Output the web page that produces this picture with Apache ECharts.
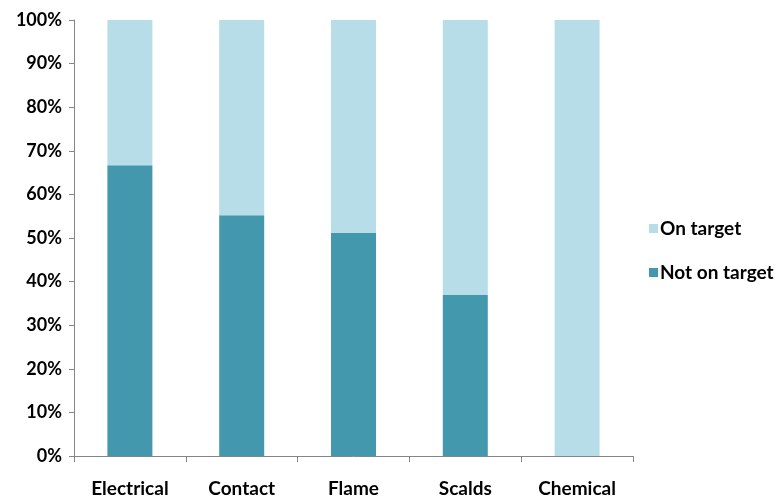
<!DOCTYPE html>
<html>
<head>
<meta charset="utf-8">
<script src="https://cdn.jsdelivr.net/npm/echarts@6/dist/echarts.min.js"></script>
<style>
  html, body { margin: 0; padding: 0; background: #fff; }
  #chart { width: 779px; height: 502px; }
</style>
</head>
<body>
<div id="chart"></div>
<script>
var categories = ['Electrical', 'Contact', 'Flame', 'Scalds', 'Chemical'];
var notOnTarget = [66.7, 55.2, 51.2, 36.9, 0];
var onTarget = [33.3, 44.8, 48.8, 63.1, 100];

var chart = echarts.init(document.getElementById('chart'));
var fontFam = 'Lato, "Open Sans", sans-serif';

chart.setOption({
    animation: false,
    textStyle: { fontFamily: fontFam },
    grid: { left: 74, top: 20, right: 146, bottom: 46, containLabel: false },
    legend: {
        orient: 'vertical',
        left: 644,
        top: 214,
        itemWidth: 9,
        itemHeight: 9,
        itemGap: 25,
        icon: 'rect',
        data: ['On target', 'Not on target'],
        textStyle: { fontSize: 19, fontWeight: 'bold', color: '#000', fontFamily: fontFam, padding: [0, 0, 0, -3] }
    },
    xAxis: {
        type: 'category',
        data: categories,
        axisLine: { lineStyle: { color: '#868686', width: 1 } },
        axisTick: { show: true, length: 6, lineStyle: { color: '#868686' } },
        axisLabel: { color: '#000', fontSize: 19, fontWeight: 'bold', margin: 23, fontFamily: fontFam }
    },
    yAxis: {
        type: 'value',
        min: 0,
        max: 100,
        interval: 10,
        splitLine: { show: false },
        axisLine: { show: true, lineStyle: { color: '#868686', width: 1 } },
        axisTick: { show: true, length: 5, lineStyle: { color: '#868686' } },
        axisLabel: { color: '#000', fontSize: 18, fontWeight: 'bold', margin: 12, fontFamily: fontFam,
            formatter: function (v) { return v + '%'; } }
    },
    series: [
        {
            name: 'Not on target',
            type: 'bar',
            stack: 'total',
            barWidth: 45,
            data: notOnTarget,
            itemStyle: { color: '#4398AE' }
        },
        {
            name: 'On target',
            type: 'bar',
            stack: 'total',
            barWidth: 45,
            data: onTarget,
            itemStyle: { color: '#B7DDE8' }
        }
    ]
});
</script>
</body>
</html>
